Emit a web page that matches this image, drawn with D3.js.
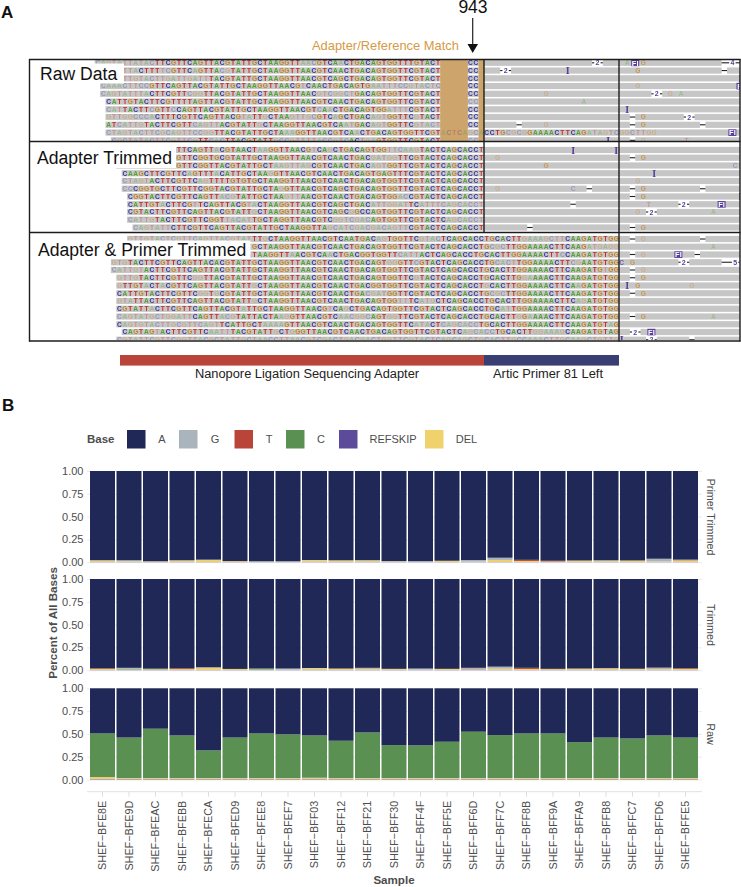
<!DOCTYPE html>
<html><head><meta charset="utf-8">
<script src="https://cdn.jsdelivr.net/npm/d3@7"></script>
<style>
html,body{margin:0;padding:0;background:#fff}
svg{display:block}
text{font-family:"Liberation Sans",Arial,sans-serif}
</style></head><body><div id="c"></div>
<script>
// ---------- Panel A data: uppercase = confident base, lowercase = low quality base
const rawReads = [
"cagtattatacTTCGTTCAGTTACGTATTGCTAAGGTTaacGTCAaCTGACAGTGGTTTGTACT",
"catattaCTTTtcGTTCaGTTAcgTATTGCTAAGGTTAACGTCAACTGACAGTGGTTCGTACT",
"cattgtacttgattgattTACGTATTGCTAAGGTTAACGTCAGCTGACAGTGGTTCGTACT",
"caaacttccGTTCAGTTACGTATTGCTAAGGTTAACGtCAACTGACAGTGaatttccgtactc",
"cagtatttaCTTCGTTcggTTACGTATTGCTAAGGTTAACgtcggctGACAGTGGTTCGTACT",
"CATTGTACTTCGTTTTAGTTACGTATTGCTAAGGTTAACGTCAACTGACAGTGGTTCGTACT",
"catTACTTcGTTcCAGTTACGTATTGCTAAGGTTAACGTcAaCTGACAGTGGatttCGTACT",
"gttggcccaCTTTCGTTCAGTTACGtaTTgCTAAgttgcGTCaGCTGACagtGGTTCgTACT",
"ATcattgTACTTCGTTcagttACGTATTgCTAAGGTTAACGTCAatGACagtGGTTCgtact",
"ctagtacttcgcagttccggTTACGTATTGCTAaaGGTTAACGTCAaCTGACAGTGGTTCGTactcagcaCCTGcgcgGAAAACTTCAGatagtcggcttgg",
"cgctatacttcgttcgTTcacTTACGTATTgccgttttaccgtcACtgaGTGGTTCGTACT"
];
const rawEnds = [936,936,936,936,936,936,936,936,936,976,936];
const overlapBases = ["CC","CC","CC","CC","CC","cc","CC","CC","CC","","cc"];
const trimmedReads = [
"cattgtacttcgTTCAGTTaCGTAACTaaGGTTAACGtCAgCTGACAGTGGttcaagTACTCAGCACCT",
"cagtattacttcGTTCGGTGCGTATTGCTAAGGTTAACGTCAACTGACgatggTTCGTACTCAGCACCT",
"cattgtacttcGTTCGGTTACGTATTGCTaagttagCGTCAACTGACagtGGTTCGTACTCAGCACCT",
"CAAGCTTCGTTCaGTTTaCATTGCTAAgGTTAACGTCAACTGACAGTGAGTTTCGTACTCAGCACCT",
"ctagtACTTCGTTCagTTTTGTGTGCTAAGGTTAACGTCAACTGACAGTGGTTCGTACTCAGCACCT",
"ccCGGTGCTTCGTTCGGTACGTATTGCTAgGTTAACGTCAGCTGACAGTGGTTCGTACTCAGCACCT",
"CGGTACTTCGTTCAGTTacgTATTGCTAAgttAACGTCAACTGACAGTGGacCGTACTCAGCACCT",
"CATTGTaCTTCGtTCAGTTACGtaCTAAGGTTAACGTCAGCTGACattggatTCatttcagcacct",
"CGTACTTCGTTCAGTTACGTATTgCTAAGGTTAACGTCAGCgGCCAGTGGTTCGTACTCAGCACCT",
"cattgTACTTCGTTCGGTtacatTGCTAGGTTAACGTCggtcgacAGTGGTTCGTACTCagcacct",
"cagtattCTTCGTTCAGTTACGTATTGCTAAGGTTAgcatcgacgacagttCGTACTCAGCACCT"
];
const primerReads = [
"gttgtactcgttcagttacgtatTTgCTAAGGTTAACGTCAATGACagTGGTTCgtacTCAGCACCTGCACTTgaaagcttCAAGATGTGG",
"ccgcattaacttcggttcagttcgtGCTAAGGTTAACGTCAACTGACAGTGGTTCGTACTCAGCACCTGcgcTTGGAAAACTTCAAGatgagg",
"cattgtacttcgttcagttacgtaTAAGGTTaACGTCAaCTGACGGTGGTTcattACTCAGCACCTGCACTTGGAAAACTTcCAAGATGTGG",
"gtgTACTTCGTTCAGTTACACGTATTGCTAAGGTTAACGTCAACTGACAGTggGTTcGTACTCAGCACCTGcactTGGAAAACTTcgAATGTGG",
"cattgtACTTCGTTCAGTTACGTATTGCTAAGGTTAACGTCAACTGACAGTGGTTCGTACTCAGCACCTGCACTTGGAAAACTTCAAGATGtGG",
"gttgTACTTCGTTCggTTACGTATTGCTAAGGTTAACGTCAACTGACAGTGGTTCgTACTCAGCACCTGCACTTGgaAAACTTCAAGATGTGG",
"gTTGTaCTaCGTTCAGTTACGTATTgCTAAGGTTAACGTCAACTGACGGTGGTTCGTACTCAGCACCTgCACTTGGAAAACTTCAaGATGTGG",
"CATTGTACTTCGTTCggTgCGTATTGCTAAGGTTAACGTCAACTGAcgatGGTTCGTACTCAGCACCTGcgcTTGGAAAACTTCAAGATGTGG",
"gtaTTACTTCGTTCAGTTACGTATTgCTAAGGTTAACGTCAACTGACAGTGGttTCatgCTCAGCACCTGCACTTGGAAAACTTCagATGTGG",
"CGTATTaCTTCGTTCAGTTACGTaTTGCTAAGGTTAACGtCAgCTGACAGTGGTTCGTACTCAGCACCTGCatTGGAAAACTTCAAGATGTGG",
"cagtatgctggattCAGTTacgTATTACTAagGTTAACGTCaacggcAGTggTTCGTACTCAGCACCTGCACTTgGaAAACTTCAAGATGTGG",
"CagtgtacttgcgttcagtTCATTGCTaaaaGTTAACGTCAACTGACAGTGGTTCataCTcagcaccTGCACTTGGAAAACTTCAAGATGTaG",
"CAGTAGtACTTCGTTCaattTACGTATTgCTgGGTTAACGTCAACTGACAGTGGTTCGTACTCagcaccTGCACTTggaaagCAAGATGTAG",
"cgtattcgttcggttacgctattgctaaccttaacgtcgactgacgactggttcgtactcagcagctgcacttgccaaacttgcaagctgttg"
];
// events: [row, genomic position, kind, length or base]
const rawEvents = [
[0,965,"del",2],[0,971,"base","a"],[0,972.5,"fi",0],[0,974,"base","G"],[0,989,"del",4],
[1,948,"del",2],[1,960,"ins",0],[1,973,"base","G"],[1,989,"del",1],
[2,992,"ins",0],[3,973,"base","g"],[3,992,"fi",0],
[4,956,"base","g"],[4,976,"del",2],[4,979,"base","g"],[4,981,"base","a"],
[5,963,"base","a"],[6,971,"ins",0],
[7,972,"del",1],[7,974,"base","G"],[7,982,"del",2],
[8,951,"del",1],[8,956,"base","g"],[8,972,"del",1],[8,974,"base","G"],[8,985,"del",1],
[9,990.5,"fi",0],[10,967.5,"ins",0],[10,972,"del",1],[10,974,"base","g"],[10,982,"base","t"]
];
const trimmedEvents = [
[0,961,"ins",0],[0,969,"ins",0],
[1,947,"base","g"],[1,972,"del",1],[1,974,"base","G"],
[2,956,"base","G"],[2,991,"base","c"],
[3,976,"ins",0],[4,973,"base","g"],
[5,947,"base","g"],[5,961,"base","c"],[5,964,"del",1],[5,972,"del",1],[5,974,"base","G"],[5,985,"del",1],
[6,972,"del",1],[6,974,"base","G"],[6,992,"ins",0],
[7,961,"del",1],[7,975,"base","t"],[7,981,"del",2],[7,988.5,"fi",0],
[8,973,"base","g"],[8,975,"del",2],[8,987,"base","a"],
[10,953,"del",1],[10,972,"del",1],[10,974,"base","G"]
];
const primerEvents = [
[0,972,"del",1],[0,974,"base","g"],[0,985,"del",1],
[1,987,"base","a"],
[2,972,"del",1],[2,974,"base","g"],[2,980.5,"fi",0],[2,984,"del",1],
[3,970,"base","C"],[3,972,"base","G"],[3,981,"del",2],[3,989,"del",5],
[4,972,"del",1],[4,974,"base","g"],
[5,972,"del",1],[5,974,"base","G"],
[6,971,"ins",0],[6,973,"base","G"],[6,983,"base","g"],
[7,972,"del",1],[7,974,"base","G"],
[10,972,"del",1],[10,974,"base","G"],[10,987,"base","a"],
[12,972,"del",2],[12,975.5,"fi",0],
[13,970,"ins",0],[13,975,"del",2],[13,983,"del",1]
];
const groupLabels = ["Raw Data","Adapter Trimmed","Adapter & Primer Trimmed"];

// ---------- Panel B data
const samples = ["SHEF−BFE8E","SHEF−BFE9D","SHEF−BFEAC","SHEF−BFEBB","SHEF−BFECA","SHEF−BFED9","SHEF−BFEE8","SHEF−BFEF7","SHEF−BFF03","SHEF−BFF12","SHEF−BFF21","SHEF−BFF30","SHEF−BFF4F","SHEF−BFF5E","SHEF−BFF6D","SHEF−BFF7C","SHEF−BFF8B","SHEF−BFF9A","SHEF−BFFA9","SHEF−BFFB8","SHEF−BFFC7","SHEF−BFFD6","SHEF−BFFE5"];
const baseNames = ["A","G","T","C","REFSKIP","DEL"];
const baseColors = ["#1f2856","#aab4bd","#b9443a","#5a9153","#5b4b9a","#efd26c"];
const facetNames = ["Primer Trimmed","Trimmed","Raw"];
const yTicks = [0,0.25,0.5,0.75,1];
const primerA = [.978,.978,.99,.978,.972,.988,.99,.99,.976,.979,.976,.988,.989,.984,.976,.951,.974,.984,.981,.978,.981,.962,.972];
const primerG = [.005,.012,.002,.008,.004,.001,.004,.005,.004,.004,.01,.004,.006,.002,.018,.025,0,0,.005,.01,.002,.03,.006];
const primerT = [0,0,0,0,0,0,0,0,0,0,0,0,0,0,0,0,.012,.008,0,0,0,0,.004];
const primerC = [0,0,0,0,0,0,0,0,0,0,0,0,0,0,0,0,0,0,0,0,0,0,0];
const primerSkip = [.002,.002,.002,.002,.002,.002,.002,.002,.002,.002,.002,.002,.002,.002,.002,.002,.002,.002,.002,.002,.002,.002,.002];
const primerDel = [.015,.008,.006,.012,.022,.009,.004,.003,.018,.015,.012,.006,.003,.012,.004,.022,.012,.006,.012,.01,.015,.006,.016];
const trimA = [.98,.974,.983,.98,.967,.986,.981,.982,.976,.982,.974,.985,.982,.985,.974,.961,.974,.985,.982,.977,.984,.972,.98];
const trimG = [0,.012,0,0,.005,0,0,.012,.004,.002,.012,.003,.012,.001,.016,.022,0,0,.004,.005,.002,.016,0];
const trimT = [.006,0,0,.008,.004,0,0,0,0,0,0,0,0,0,.004,0,.012,.003,0,.002,0,0,.006];
const trimC = [0,.006,.008,0,0,0,.012,0,0,0,0,0,0,0,0,0,0,0,0,0,0,0,0];
const trimSkip = [.002,.002,.002,.002,.002,.002,.002,.002,.002,.002,.002,.002,.002,.002,.002,.002,.002,.002,.002,.002,.002,.002,.002];
const trimDel = [.012,.006,.007,.01,.022,.012,.005,.004,.018,.014,.012,.01,.004,.012,.004,.015,.012,.01,.012,.014,.012,.01,.012];
const rawA = [.495,.54,.443,.517,.681,.54,.495,.505,.517,.575,.484,.623,.626,.586,.476,.513,.495,.495,.59,.54,.55,.517,.54];
const rawG = [0,0,0,0,0,0,0,0,0,0,0,0,0,0,0,0,0,0,0,0,0,0,0];
const rawT = [0,0,0,0,0,0,0,0,0,0,0,0,0,0,0,0,0,0,0,0,0,0,0];
const rawC = [.478,.444,.541,.467,.303,.444,.489,.479,.464,.409,.5,.361,.358,.398,.508,.471,.489,.489,.394,.444,.434,.467,.444];
const rawSkip = [.005,.005,.005,.005,.005,.005,.005,.005,.005,.005,.005,.005,.005,.005,.005,.005,.005,.005,.005,.005,.005,.005,.005];
const rawDel = [.022,.011,.011,.011,.011,.011,.011,.011,.014,.011,.011,.011,.011,.011,.011,.011,.011,.011,.011,.011,.011,.011,.011];

// ---------- Drawing
const W = 741, H = 887;
const svg = d3.select("#c").append("svg").attr("width",W).attr("height",H).attr("viewBox",`0 0 ${W} ${H}`);
const ink = "#1c1c1c", textGrey = "#4d4d4d", purple = "#5a3e9b";
const letterColor = {A:"#4fa02f",C:"#2f2f9e",G:"#c57f1f",T:"#c4241c"};

svg.append("text").attr("x",1).attr("y",18).attr("font-size",17).attr("font-weight",700).attr("fill","#111").text("A");
svg.append("text").attr("x",2).attr("y",411).attr("font-size",17).attr("font-weight",700).attr("fill","#111").text("B");

// genomic x scale
const gx = d3.scaleLinear().domain([943,970]).range([473.2,619]);
const colW = gx(944)-gx(943);
const groups = [
 {label:groupLabels[0],reads:rawReads,ends:rawEnds,events:rawEvents,y0:62.8,top:60,bottom:141,lab:{x0:30,y0:63.5,x1:124,y1:83.5,tx:40,ty:79.5}},
 {label:groupLabels[1],reads:trimmedReads,ends:trimmedReads.map(()=>944),events:trimmedEvents,y0:150,top:142.5,bottom:232,lab:{x0:30,y0:143,x1:176,y1:168,tx:37,ty:164}},
 {label:groupLabels[2],reads:primerReads,ends:primerReads.map(()=>969),events:primerEvents,y0:239,top:233.5,bottom:340,lab:{x0:34,y0:240.5,x1:250.5,y1:258.5,tx:38,ty:256}}
];
const rowStep = 7.75, barH = 6.2;
const defs = svg.append("defs");
const soft = defs.append("filter").attr("id","soft").attr("x","-2%").attr("y","-2%").attr("width","104%").attr("height","104%");
soft.append("feGaussianBlur").attr("stdDeviation",0.28);

groups.forEach((g,gi)=>{
  const clipId = "clip"+gi;
  defs.append("clipPath").attr("id",clipId).append("rect").attr("x",30).attr("y",g.top).attr("width",710).attr("height",g.bottom-g.top);
  const layer = svg.append("g").attr("clip-path",`url(#${clipId})`);
  const inner = layer.append("g").attr("filter","url(#soft)");
  const ry = d3.scaleLinear().domain([0,1]).range([g.y0,g.y0+rowStep]);
  const rows = g.reads.map((s,i)=>({s,i,start:g.ends[i]-s.length+1}));
  inner.selectAll("rect.bar").data(rows).join("rect").attr("class","bar")
    .attr("x",d=>gx(d.start)-0.5).attr("y",d=>ry(d.i)-barH/2)
    .attr("width",d=>741-gx(d.start)).attr("height",barH).attr("fill","#c6c6c6");
  if(gi===0){
    const blocks=[[936.9,942],[944,945]];
    inner.selectAll("rect.orange").data(blocks).join("rect").attr("class","orange")
      .attr("x",d=>gx(d[0])).attr("width",d=>gx(d[1])-gx(d[0]))
      .attr("y",60).attr("height",81).attr("fill","#cda56c");
  }
  const letters=[];
  rows.forEach(r=>{
    [...r.s].forEach((ch,k)=>letters.push({ch:ch.toUpperCase(),low:ch===ch.toLowerCase(),row:r.i,pos:r.start+k}));
  });
  if(gi===0){
    overlapBases.forEach((cc,i)=>[...cc].forEach((ch,k)=>letters.push({ch:ch.toUpperCase(),low:ch===ch.toLowerCase(),row:i,pos:942+k})));
  }
  const drawLetters=(sel,data)=>sel.selectAll("text.b").data(data).join("text").attr("class","b")
    .attr("x",d=>gx(d.pos)+colW/2).attr("y",d=>ry(d.row)+2.4)
    .attr("text-anchor","middle").attr("font-size",6.6).attr("font-weight",700)
    .attr("fill",d=>letterColor[d.ch]).attr("fill-opacity",d=>d.low?0.32:0.95).text(d=>d.ch);
  drawLetters(inner,letters);

  g.events.forEach(e=>{
    const [row,pos,kind,val]=e; const cy=ry(row);
    if(kind==="base"){
      const ch=String(val);
      inner.append("text").attr("x",gx(pos)+colW/2).attr("y",cy+2.4).attr("text-anchor","middle").attr("font-size",6.6).attr("font-weight",700)
       .attr("fill",letterColor[ch.toUpperCase()]).attr("fill-opacity",ch===ch.toLowerCase()?0.3:0.65).text(ch.toUpperCase());
    } else if(kind==="del"){
      const x0=gx(pos), x1=gx(pos+val);
      inner.append("rect").attr("x",x0).attr("width",x1-x0).attr("y",cy-rowStep/2).attr("height",rowStep).attr("fill","#fff");
      inner.append("line").attr("x1",x0).attr("x2",x1).attr("y1",cy).attr("y2",cy).attr("stroke","#222").attr("stroke-width",1.1);
      if(val>1){
        const mid=(x0+x1)/2;
        inner.append("rect").attr("x",mid-3.2).attr("width",6.4).attr("y",cy-3.5).attr("height",7).attr("fill","#fff");
        inner.append("text").attr("x",mid).attr("y",cy+2.5).attr("text-anchor","middle").attr("font-size",7).attr("font-weight",700).attr("fill",purple).text(val);
      }
    } else if(kind==="ins"){
      inner.append("text").attr("x",gx(pos)+colW/2).attr("y",cy+3.5).attr("text-anchor","middle").attr("font-size",10)
       .attr("font-weight",700).style("font-family","'Liberation Serif',serif").attr("fill",purple).text("I");
    } else if(kind==="fi"){
      const c=gx(pos)+colW/2;
      inner.append("rect").attr("x",c-4).attr("width",8).attr("y",cy-3.2).attr("height",6.6).attr("fill",purple);
      inner.append("text").attr("x",c).attr("y",cy+2.7).attr("text-anchor","middle").attr("font-size",7.5).attr("font-weight",700).attr("fill","#fff").text("FI");
    }
  });
  const l=g.lab;
  svg.append("rect").attr("x",l.x0).attr("y",l.y0).attr("width",l.x1-l.x0).attr("height",l.y1-l.y0).attr("fill","#fff");
  svg.append("text").attr("x",l.tx).attr("y",l.ty).attr("font-size",17.6).attr("fill","#111").text(g.label);
});

// frame lines
const frameH=[59.5,141.5,232.5,341], frameV=[[29.5,59,341.5],[484,59,232.5],[619,59,341.5],[740,59,341.5]];
svg.selectAll("line.fh").data(frameH).join("line").attr("x1",29).attr("x2",740.5).attr("y1",d=>d).attr("y2",d=>d).attr("stroke",ink).attr("stroke-width",1.4);
svg.selectAll("line.fv").data(frameV).join("line").attr("x1",d=>d[0]).attr("x2",d=>d[0]).attr("y1",d=>d[1]).attr("y2",d=>d[2]).attr("stroke",ink).attr("stroke-width",1.4);

// annotations
svg.append("text").attr("x",473).attr("y",13).attr("text-anchor","middle").attr("font-size",17.5).attr("fill","#111").text("943");
svg.append("line").attr("x1",472.7).attr("x2",472.7).attr("y1",18).attr("y2",46).attr("stroke","#222").attr("stroke-width",1.2);
svg.append("path").attr("d",d3.line()([[467.5,44],[478,44],[472.7,53]])+"Z").attr("fill","#111");
svg.append("text").attr("x",312).attr("y",49.5).attr("font-size",12.9).attr("fill","#d69a45").text("Adapter/Reference Match");

svg.append("rect").attr("x",120).attr("y",355).attr("width",gx(945)-120).attr("height",10.6).attr("fill","#b9443a");
svg.append("rect").attr("x",gx(945)).attr("y",355).attr("width",gx(970)-gx(945)).attr("height",10.6).attr("fill","#3a3f73");
svg.append("text").attr("x",307).attr("y",378).attr("text-anchor","middle").attr("font-size",12.85).attr("fill","#222").text("Nanopore Ligation Sequencing Adapter");
svg.append("text").attr("x",548).attr("y",378).attr("text-anchor","middle").attr("font-size",12.85).attr("fill","#222").text("Artic Primer 81 Left");

// legend
svg.append("text").attr("x",87).attr("y",443).attr("font-size",11.5).attr("font-weight",700).attr("fill",textGrey).text("Base");
const keyX=[127,179,234.5,286,339,425], keyLabX=[162,215,269,321,393,466.5];
const keyIdx=d3.range(baseNames.length);
svg.selectAll("rect.key").data(keyIdx).join("rect").attr("class","key")
  .attr("x",i=>keyX[i]).attr("y",430).attr("width",18.5).attr("height",18.5).attr("fill",i=>baseColors[i]);
svg.selectAll("text.keyl").data(keyIdx).join("text").attr("class","keyl")
  .attr("x",i=>keyLabX[i]).attr("y",443).attr("text-anchor","middle").attr("font-size",11).attr("fill",textGrey).text(i=>baseNames[i]);

// stacked facets
const x = d3.scaleBand().domain(samples).range([90,698]).paddingInner(0.0566).paddingOuter(0);
const stackOrder=["REFSKIP","DEL","C","T","G","A"];
const tables=[
 {A:primerA,G:primerG,T:primerT,C:primerC,REFSKIP:primerSkip,DEL:primerDel},
 {A:trimA,G:trimG,T:trimT,C:trimC,REFSKIP:trimSkip,DEL:trimDel},
 {A:rawA,G:rawG,T:rawT,C:rawC,REFSKIP:rawSkip,DEL:rawDel}
];
const panelTop=[471,579,688.3], panelH=91.2, stripCenter=[517,625,734];
const colorOf=d3.scaleOrdinal().domain(baseNames).range(baseColors);
tables.forEach((t,fi)=>{
  const y=d3.scaleLinear().domain([0,1]).range([panelTop[fi]+panelH,panelTop[fi]]);
  const g=svg.append("g");
  const grid=d3.axisLeft(y).tickValues(yTicks).tickSize(-615).tickFormat(d3.format(".2f")).tickPadding(3.5);
  const ax=g.append("g").attr("transform","translate(87,0)").call(grid);
  ax.select(".domain").remove();
  ax.selectAll("line").attr("stroke","#e6e6e6").attr("stroke-width",0.8);
  ax.selectAll("text").attr("font-size",11).attr("fill",textGrey).style("font-family","'Liberation Sans',Arial,sans-serif");
  const rows=samples.map((s,i)=>{const o={sample:s};baseNames.forEach(b=>o[b]=t[b][i]);return o;});
  const series=d3.stack().keys(stackOrder)(rows);
  g.selectAll("g.s").data(series).join("g").attr("class","s").attr("fill",d=>colorOf(d.key))
    .selectAll("rect").data(d=>d).join("rect")
    .attr("x",d=>x(d.data.sample)).attr("width",x.bandwidth())
    .attr("y",d=>y(d[1])).attr("height",d=>Math.max(0,y(d[0])-y(d[1])));
  svg.append("text").attr("transform",`translate(707,${stripCenter[fi]}) rotate(90)`).attr("text-anchor","middle")
    .attr("font-size",10.8).attr("fill",textGrey).text(facetNames[fi]);
});

// bottom axis
const bx=d3.axisBottom(x).tickSize(5).tickPadding(4);
const bg=svg.append("g").attr("transform","translate(0,791.7)").call(bx);
bg.select(".domain").attr("d","M87,0H702").attr("stroke","#dedede").attr("stroke-width",0.9);
bg.selectAll("line").attr("stroke","#dedede");
bg.selectAll("text").attr("transform","rotate(-90)").attr("text-anchor","end").attr("x",-9).attr("y",0).attr("dy","0.35em")
  .attr("font-size",10.8).attr("fill",textGrey).style("font-family","'Liberation Sans',Arial,sans-serif");

svg.append("text").attr("transform","translate(56.5,623) rotate(-90)").attr("text-anchor","middle").attr("font-size",11.6).attr("font-weight",700).attr("fill",textGrey).text("Percent of All Bases");
svg.append("text").attr("x",394).attr("y",884).attr("text-anchor","middle").attr("font-size",11.6).attr("font-weight",700).attr("fill",textGrey).text("Sample");
</script></body></html>
